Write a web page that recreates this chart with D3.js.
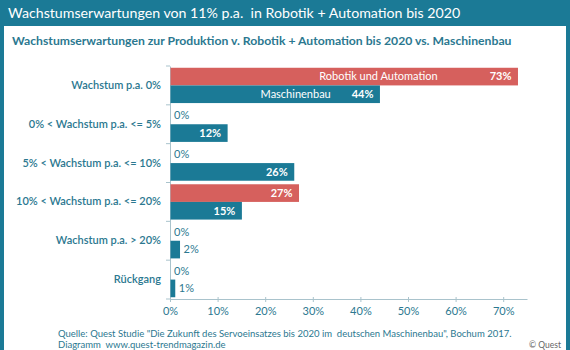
<!DOCTYPE html>
<html>
<head>
<meta charset="utf-8">
<script src="https://cdn.jsdelivr.net/npm/d3@7"></script>
<style>
  body { margin: 0; background: #fff; }
  svg { display: block; font-family: Lato, "DejaVu Sans", sans-serif; }
  text { white-space: pre; }
</style>
</head>
<body>
<svg id="chart" width="570" height="350"></svg>
<script>
// values
const categories = ["Wachstum p.a. 0%", "0% < Wachstum p.a. <= 5%", "5% < Wachstum p.a. <= 10%",
  "10% < Wachstum p.a. <= 20%", "Wachstum p.a. > 20%", "Rückgang"];
const seriesNames = ["Robotik und Automation", "Maschinenbau"];
const robotik = [73, 0, 0, 27, 0, 0];
const maschinenbau = [44, 12, 26, 15, 2, 1];
const xTicks = [0, 10, 20, 30, 40, 50, 60, 70];

const teal = "#1b7a96";
const red = "#d6605d";
const textTeal = "#2b7890";
const font = "Lato, sans-serif";

const svg = d3.select("#chart");

// frame + header band
svg.append("rect").attr("x", 0).attr("y", 0).attr("width", 570).attr("height", 350).attr("fill", teal);
svg.append("rect").attr("x", 4).attr("y", 26).attr("width", 562).attr("height", 324).attr("fill", "#fff");

svg.append("text").attr("x", 8).attr("y", 18)
  .attr("fill", "#fff").attr("font-size", 14.2)
  .text("Wachstumserwartungen von 11% p.a.  in Robotik + Automation bis 2020");

svg.append("text").attr("x", 12).attr("y", 45)
  .attr("fill", textTeal).attr("font-size", 12.2).attr("font-weight", "bold")
  .text("Wachstumserwartungen zur Produktion v. Robotik + Automation bis 2020 vs. Maschinenbau");

const x = d3.scaleLinear().domain([0, 75]).range([170, 527]);
const y = d3.scaleBand().domain(categories).range([66, 299]);
const ySub = d3.scaleBand().domain(seriesNames).range([0, y.bandwidth()]).paddingOuter(0.1);

const rows = categories.map((c, i) => ({cat: c, values: [
  {name: seriesNames[0], v: robotik[i], color: red},
  {name: seriesNames[1], v: maschinenbau[i], color: teal}
]}));

// axes
const xAxis = svg.append("g").attr("transform", "translate(0,299)")
  .call(d3.axisBottom(x).tickValues(xTicks).tickFormat(d => d + "%").tickSize(3).tickSizeOuter(0));
xAxis.select(".domain").attr("stroke", "#a9c3cc");
xAxis.selectAll(".tick line").attr("stroke", "#a9c3cc").attr("y1", -2);
xAxis.selectAll(".tick text").attr("fill", textTeal).attr("font-size", 11)
  .attr("font-family", font).attr("dy", "0.9em");

const yAxis = svg.append("g").attr("transform", "translate(170,0)")
  .call(d3.axisLeft(y).tickSize(0).tickPadding(9));
yAxis.select(".domain").attr("stroke", "#a9c3cc");
yAxis.selectAll(".tick text").attr("fill", textTeal).attr("font-size", 11).attr("font-weight", 600)
  .attr("font-family", font);
// tick marks between categories
yAxis.selectAll(".sep").data(d3.range(categories.length + 1))
  .join("line").attr("class", "sep")
  .attr("x1", -4).attr("x2", 0)
  .attr("y1", i => y(categories[0]) + i * y.step())
  .attr("y2", i => y(categories[0]) + i * y.step())
  .attr("stroke", "#a9c3cc");

// bars
const groups = svg.append("g").selectAll("g").data(rows).join("g")
  .attr("transform", d => `translate(0,${y(d.cat)})`);

groups.selectAll("rect").data(d => d.values).join("rect")
  .attr("x", x(0) + 0.5)
  .attr("y", d => ySub(d.name))
  .attr("width", d => Math.max(0, x(d.v) - x(0)))
  .attr("height", ySub.bandwidth())
  .attr("fill", d => d.color);

// value labels
groups.selectAll("text.val").data(d => d.values).join("text")
  .attr("class", "val")
  .attr("x", d => d.v >= 10 ? x(d.v) - 6 : x(d.v) + 4)
  .attr("y", d => ySub(d.name) + ySub.bandwidth() / 2)
  .attr("dy", "0.35em")
  .attr("text-anchor", d => d.v >= 10 ? "end" : "start")
  .attr("font-size", 11)
  .attr("font-weight", d => d.v >= 10 ? "bold" : "normal")
  .attr("fill", d => d.v >= 10 ? "#fff" : textTeal)
  .text(d => d.v + "%");

// series name labels on the first category
groups.filter((d, i) => i === 0).selectAll("text.name").data(d => d.values).join("text")
  .attr("class", "name")
  .attr("x", d => x(0) + (x(d.v) - x(0)) * 0.6)
  .attr("y", d => ySub(d.name) + ySub.bandwidth() / 2)
  .attr("dy", "0.35em")
  .attr("text-anchor", "middle")
  .attr("font-size", 11)
  .attr("fill", "#fff")
  .text(d => d.name);

// footer
svg.append("text").attr("x", 58).attr("y", 337).attr("fill", textTeal).attr("font-size", 9.5)
  .text("Quelle: Quest Studie \"Die Zukunft des Servoeinsatzes bis 2020 im  deutschen Maschinenbau\", Bochum 2017.");
svg.append("text").attr("x", 58).attr("y", 347.5).attr("fill", textTeal).attr("font-size", 9.5)
  .text("Diagramm  www.quest-trendmagazin.de");
svg.append("text").attr("x", 561).attr("y", 348).attr("text-anchor", "end").attr("fill", "#666").attr("font-size", 8.5)
  .text("© Quest");
</script>
</body>
</html>
